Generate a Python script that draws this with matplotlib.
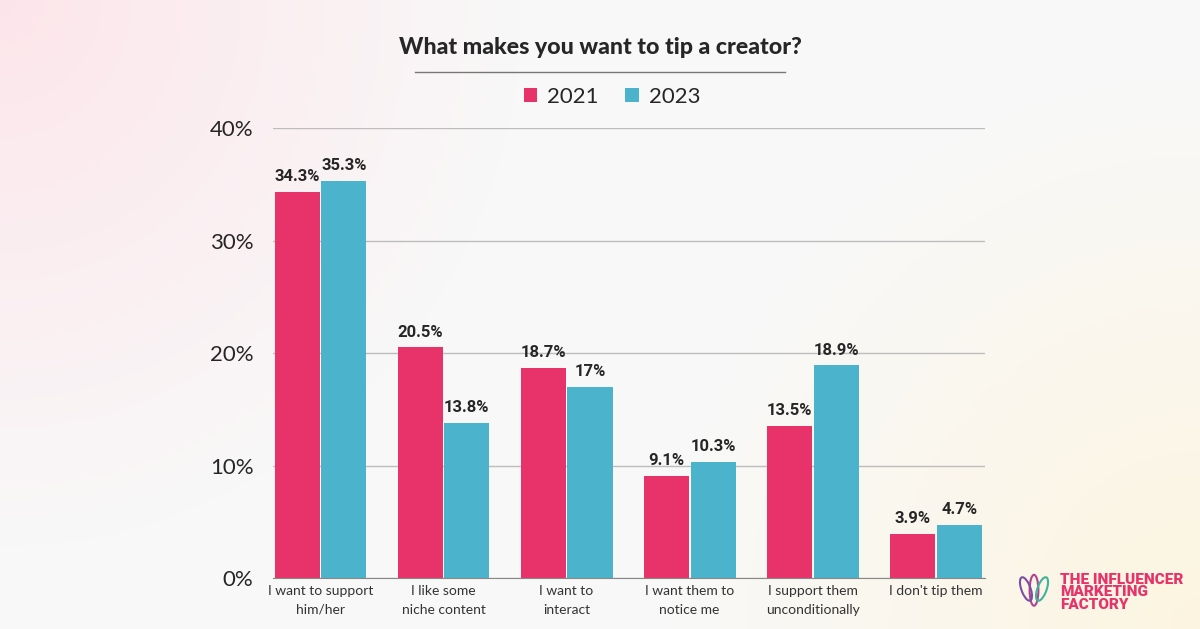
import numpy as np
import matplotlib
matplotlib.use("Agg")
import matplotlib.pyplot as plt
from matplotlib.patches import Ellipse

categories = ["I want to support\nhim/her", "I like some\nniche content", "I want to\ninteract",
              "I want them to\nnotice me", "I support them\nunconditionally", "I don't tip them"]
vals_2021 = [34.3, 20.5, 18.7, 9.1, 13.5, 3.9]
vals_2023 = [35.3, 13.8, 17.0, 10.3, 18.9, 4.7]
labels_2021 = ["34.3%", "20.5%", "18.7%", "9.1%", "13.5%", "3.9%"]
labels_2023 = ["35.3%", "13.8%", "17%", "10.3%", "18.9%", "4.7%"]
yticks = [0, 10, 20, 30, 40]
ytick_labels = ["0%", "10%", "20%", "30%", "40%"]

PINK = "#E8336A"
BLUE = "#4BB3CB"
DARK = "#262626"

fig = plt.figure(figsize=(12, 6.29), dpi=100)

# background gradient
bg = fig.add_axes([0, 0, 1, 1], zorder=-10)
bg.axis("off")
H, W = 200, 380
yy, xx = np.mgrid[0:H, 0:W]
xn = xx / (W - 1)
yn = yy / (H - 1)
img = np.ones((H, W, 3))
dp = np.clip(1 - np.sqrt((xn / 0.45) ** 2 + (yn / 0.9) ** 2), 0, 1)
pinkc = np.array([0.99, 0.90, 0.92])
dy = np.clip(1 - np.sqrt(((1 - xn) / 0.45) ** 2 + ((1 - yn) / 0.9) ** 2), 0, 1)
yelc = np.array([0.99, 0.96, 0.88])
base = np.array([0.975, 0.975, 0.975])
for c in range(3):
    img[..., c] = base[c] * (1 - dp - dy).clip(0, 1) + pinkc[c] * dp + yelc[c] * dy
    img[..., c] = np.where(dp + dy > 1, (pinkc[c] * dp + yelc[c] * dy) / (dp + dy + 1e-9), img[..., c])
bg.imshow(img, extent=[0, 1, 0, 1], aspect="auto", origin="upper")
bg.set_xlim(0, 1)
bg.set_ylim(0, 1)

ax = fig.add_axes([273 / 1200, 1 - 578 / 629, (985 - 273) / 1200, (578 - 128) / 629])
ax.patch.set_alpha(0)
x = np.arange(len(categories))
bw = 0.366
off = 0.19
b1 = ax.bar(x - off, vals_2021, bw, color=PINK, zorder=3)
b2 = ax.bar(x + off, vals_2023, bw, color=BLUE, zorder=3)
for xi, v, lab in zip(x - off, vals_2021, labels_2021):
    ax.text(xi, v + 0.7, lab, ha="center", va="bottom", fontsize=12, fontweight="bold",
            color=DARK, family="Roboto")
for xi, v, lab in zip(x + off, vals_2023, labels_2023):
    ax.text(xi, v + 0.7, lab, ha="center", va="bottom", fontsize=12, fontweight="bold",
            color=DARK, family="Roboto")

ax.set_xlim(-0.386, 5.40)
ax.set_ylim(0, 40)
ax.set_yticks(yticks)
ax.set_yticklabels(ytick_labels, fontsize=16, color=DARK, family="Lato")
ax.set_xticks(x)
ax.set_xticklabels(categories, fontsize=10, color="#333333", family="Lato",
                   linespacing=1.7)
ax.tick_params(axis="both", length=0)
ax.tick_params(axis="y", pad=14)
ax.tick_params(axis="x", pad=5)
ax.grid(axis="y", color="#BDBDBD", linewidth=1, zorder=0)
for s in ["top", "right", "left"]:
    ax.spines[s].set_visible(False)
ax.spines["bottom"].set_color("#888888")
ax.spines["bottom"].set_zorder(4)

# title
fig.text(600 / 1200, 1 - 47 / 629, "What makes you want to tip a creator?", ha="center", va="center",
         fontsize=16.7, fontweight="black", color=DARK, family="Lato")
fig.add_artist(plt.Line2D([415 / 1200, 785 / 1200], [1 - 72 / 629, 1 - 72 / 629],
                          color="#777777", linewidth=1))
# legend
leg = ax.legend([b1, b2], ["2021", "2023"], loc="center", bbox_to_anchor=(612 / 1200, 1 - 97 / 629),
                bbox_transform=fig.transFigure, ncol=2, frameon=False, handlelength=0.6,
                handleheight=0.6, handletextpad=0.45, columnspacing=1.2,
                prop={"family": "Lato", "size": 16})
for t in leg.get_texts():
    t.set_color(DARK)

# logo
fig.text(1060 / 1200, 1 - 573 / 629, "THE INFLUENCER\nMARKETING\nFACTORY", ha="left", va="top",
         fontsize=11, fontweight="heavy", color=PINK, family="Roboto", linespacing=0.85)
lg = fig.add_axes([1015 / 1200, 1 - 607 / 629, 38 / 1200, 36 / 629])
lg.axis("off")
lg.set_xlim(-1.3, 1.3)
lg.set_ylim(0, 1.4)
lg.add_patch(Ellipse((0, 0.65), 0.6, 1.2, fill=False, ec="#B0438F", lw=1.5))
lg.add_patch(Ellipse((-0.55, 0.7), 0.55, 1.1, angle=40, fill=False, ec="#7A4FA0", lw=1.5))
lg.add_patch(Ellipse((0.55, 0.7), 0.55, 1.1, angle=-40, fill=False, ec="#3FB39A", lw=1.5))

fig.savefig("out.png", dpi=100)
